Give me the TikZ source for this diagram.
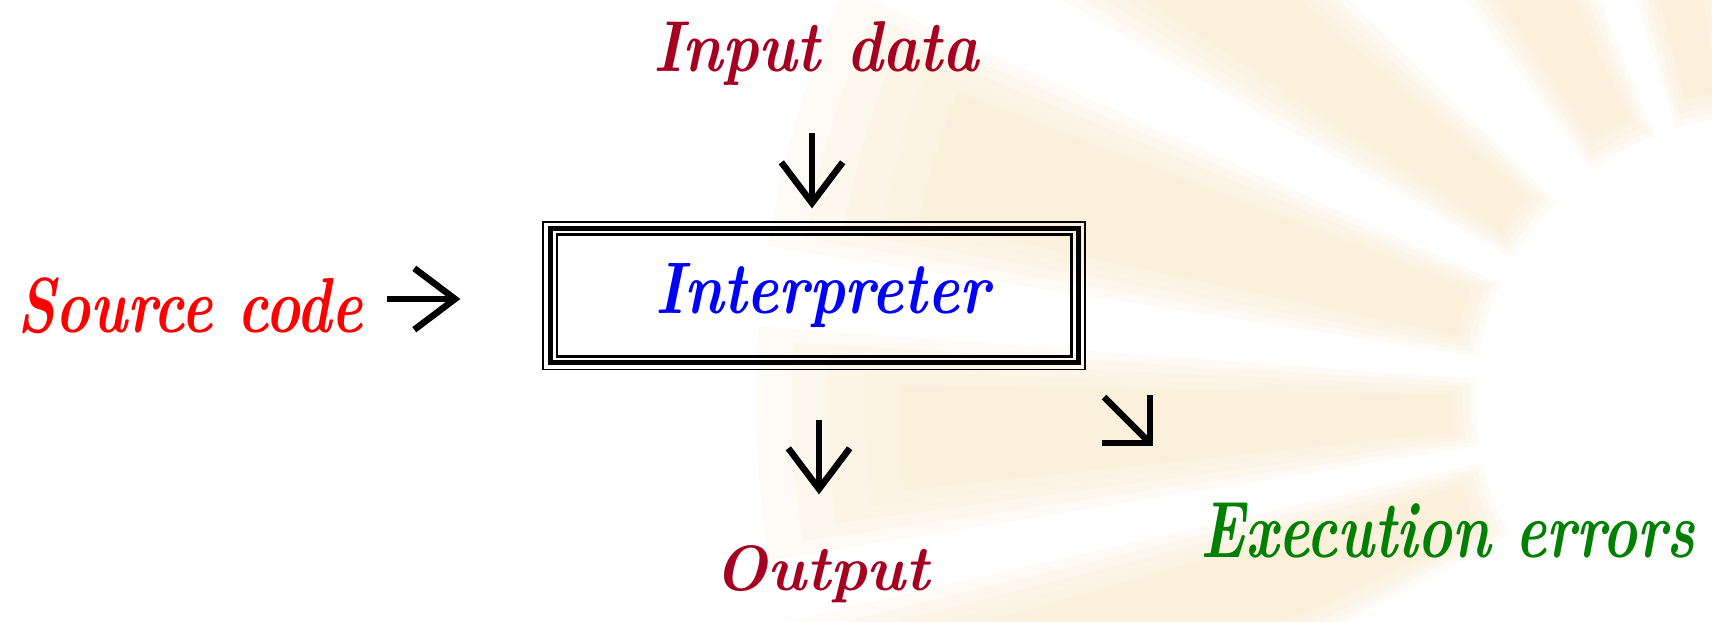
\documentclass[tikz,border=0pt]{standalone}
\usepackage{fontspec}
\usepackage{graphicx}
\usetikzlibrary{calc}

\definecolor{wine}{RGB}{165,0,33}
\definecolor{srcred}{RGB}{255,0,0}
\definecolor{interpblue}{RGB}{0,0,255}
\definecolor{errgreen}{RGB}{0,128,0}
\definecolor{rayc}{RGB}{249,227,184}

% set #2 and stretch it horizontally to the width #1 (in pt)
\newlength\fitlen
\newcommand\fitw[2]{%
  \settowidth\fitlen{#2}%
  \pgfmathsetmacro\fitfac{#1/\fitlen}%
  \scalebox{\fitfac}[1]{#2}}

\begin{document}
\begin{tikzpicture}[x=1pt,y=-1pt,
  txt/.style={anchor=base,inner sep=0pt,outer sep=0pt},
  glyph/.style={line width=6.5pt,line join=miter,draw=black},
  boxline/.style={draw=black}]

\useasboundingbox (0,0) rectangle (1712,621);
\fill[white] (0,0) rectangle (1712,621);

% faint sunburst in the background, soft-edged rays
\begin{scope}
  \clip (0,0) rectangle (1712,621);
  \begin{scope}[shift={(1760,400)},y=1pt]
    \foreach \a/\b in {98/104,115/123,139/147,159/168,179/186,196/205}{
      \foreach \e in {0,0.8,1.6,2.4,3.2}{
        \pgfmathsetmacro\lo{\a-\e}
        \pgfmathsetmacro\hi{\b+\e}
        \pgfmathsetmacro\rin{310-8*\e}
        \pgfmathsetmacro\rout{860+45*\e}
        \fill[rayc,opacity=0.12]
          (\lo:\rin) -- (\lo:\rout)
          arc[start angle=\lo,end angle=\hi,radius=\rout]
          -- (\hi:\rin)
          arc[start angle=\hi,end angle=\lo,radius=\rin] -- cycle;
      }
    }
  \end{scope}
\end{scope}

% triple-ruled frame
\node[boxline,line width=2.8pt,minimum width=514.7pt,minimum height=121.8pt,
      inner sep=0pt,outer sep=0pt] (box) at (814.25,295.6) {};
\draw[boxline,line width=5pt] ($(box.north west)+(-6.6,-6)$) rectangle ($(box.south east)+(6.6,6)$);
\draw[boxline,line width=1.8pt] ($(box.north west)+(-13.6,-13)$) rectangle ($(box.south east)+(13.6,13)$);

% labels
\node[txt,text=interpblue,font=\fontsize{73}{80}\selectfont\bfseries\itshape] (interp) at (822.6,313) {\fitw{334}{Interpreter}};
\node[txt,text=wine,font=\fontsize{72}{80}\selectfont\bfseries\itshape] (input) at (816,71) {\fitw{326}{Input data}};
\node[txt,text=srcred,font=\fontsize{78}{86}\selectfont\bfseries\itshape] (source) at (190,332) {\fitw{346}{Source code}};
\node[txt,text=wine,font=\fontsize{64}{72}\selectfont\bfseries\itshape] (output) at (822,590) {\fitw{215}{Output}};
\node[txt,text=errgreen,font=\fontsize{80}{88}\selectfont\bfseries\itshape] (errors) at (1448,557) {\fitw{495}{Execution errors}};

% arrow glyphs
\coordinate (inA) at (812,133);  \coordinate (inB) at (812,203);
\coordinate (srcA) at (387,299); \coordinate (srcB) at (455,299);
\coordinate (outA) at (819,420); \coordinate (outB) at (819,489);
\coordinate (errA) at (1104,397); \coordinate (errB) at (1150,443);

\draw[glyph] (inA) -- (inB);
\draw[glyph] ($(inB)!51pt!37:(inA)$) -- (inB) -- ($(inB)!51pt!-37:(inA)$);

\draw[glyph] (srcA) -- (srcB);
\draw[glyph] ($(srcB)!51pt!37:(srcA)$) -- (srcB) -- ($(srcB)!51pt!-37:(srcA)$);

\draw[glyph] (outA) -- (outB);
\draw[glyph] ($(outB)!51pt!37:(outA)$) -- (outB) -- ($(outB)!51pt!-37:(outA)$);

\draw[glyph] (errA) -- (errB);
\draw[glyph] ($(errB)!48pt!45:(errA)$) -- (errB) -- ($(errB)!48pt!-45:(errA)$);

\end{tikzpicture}
\end{document}
